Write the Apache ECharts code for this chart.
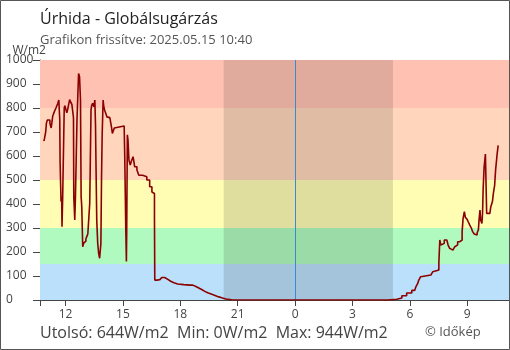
<!DOCTYPE html>
<html><head><meta charset="utf-8">
<script src="https://cdn.jsdelivr.net/npm/echarts@6/dist/echarts.min.js"></script>
<style>html,body{margin:0;padding:0;background:#fff}#c{width:510px;height:350px}</style>
</head><body><div id="c"></div><script>
// ---- data ----
const timesDay1 = ['10:52','10:54','10:58','11:00','11:03','11:08','11:11','11:15','11:17','11:20','11:25','11:30','11:34','11:36','11:39','11:42','11:43','11:46','11:48','11:49','11:51','11:56','11:58','12:02','12:04','12:07','12:10','12:13','12:16','12:20','12:25','12:26','12:29','12:31','12:36','12:41','12:44','12:47','12:49','12:51','12:54','12:57','13:00','13:04','13:07','13:10','13:13','13:16','13:20','13:22','13:25','13:29','13:32','13:34','13:36','13:38','13:41','13:44','13:47','13:51','13:53','13:55','13:58','14:00','14:03','14:07','14:10','14:13','14:16','14:19','14:24','14:27','14:30','14:33','14:37','15:04','15:06','15:09','15:11','15:12','15:14','15:16','15:19','15:23','15:27','15:32','15:37','15:44','15:50','16:02','16:15','16:24','16:31','16:35','16:39','16:40','16:49','16:56','17:02','17:11','17:21','17:30','17:40','17:52','18:11','18:30','18:39','18:49','18:58','19:07','19:17','19:26','19:39','19:51','20:01','20:10','20:23','20:41'];
const valuesDay1 = [662,672,701,736,750,750,736,717,736,767,785,800,800,820,833,750,575,410,430,305,420,800,810,790,780,795,815,835,825,815,760,430,333,420,750,944,930,833,430,389,222,237,245,255,265,275,279,403,792,810,820,805,833,736,528,333,236,194,174,236,514,688,833,806,790,775,763,770,760,758,722,694,705,717,725,720,583,300,160,290,688,667,583,562,580,597,555,542,520,514,500,472,450,444,347,83,85,90,94,86,78,72,67,64,62,62,56,50,44,36,30,24,18,13,9,4,1,0];
const timesDay2 = ['04:51','04:57','05:19','05:35','05:50','06:06','06:15','06:19','06:25','06:28','06:34','06:40','07:06','07:12','07:18','07:31','07:34','07:37','07:43','07:48','07:56','08:00','08:05','08:10','08:15','08:21','08:26','08:30','08:37','08:40','08:44','08:47','08:51','08:54','08:57','09:00','09:03','09:08','09:13','09:17','09:22','09:27','09:31','09:35','09:37','09:40','09:42','09:46','09:48','09:50','09:53','09:57','09:59','10:01','10:11','10:14','10:19','10:22','10:26','10:29','10:34','10:37'];
const valuesDay2 = [0,3,8,18,29,40,45,55,70,83,97,104,111,118,125,155,250,229,236,250,245,229,215,208,212,222,230,243,235,250,285,340,368,345,352,335,326,312,299,285,275,271,280,292,333,375,333,319,361,465,555,608,483,361,354,389,410,444,479,542,611,644];
const hourTickLabels = [12,15,18,21,24,27,30,33];
const bandLimits = [0,150,300,500,800,1000];
const nightStart = '20:16';   // day 1
const nightEnd = '05:07';     // day 2
const axisStart = '10:40';    // day 1
const axisEnd = '11:11';      // day 2
const titleText = 'Úrhida - Globálsugárzás';
const subtitleText = 'Grafikon frissítve: 2025.05.15 10:40';
const unitText = 'W/m2';
const statsText = 'Utolsó: 644W/m2  Min: 0W/m2  Max: 944W/m2';
const creditText = '© Időkép';

// ---- styles ----
const bandColors = ['#bbe0fb','#b0fac0','#fffdb4','#ffd6bc','#ffc2b2'];
const FONT = '"Open Sans", "Noto Sans", sans-serif';

function toHour(t, day) { const [h, m] = t.split(':').map(Number); return day * 24 + h + m / 60; }
const lineData = [];
timesDay1.forEach((t, i) => lineData.push([toHour(t, 0), valuesDay1[i]]));
timesDay2.forEach((t, i) => lineData.push([toHour(t, 1), valuesDay2[i]]));
const xMin = toHour(axisStart, 0), xMax = toHour(axisEnd, 1);

const bandAreas = bandColors.map((c, i) => [
  { yAxis: bandLimits[i], itemStyle: { color: c } },
  { yAxis: bandLimits[i + 1] }
]);

const chart = echarts.init(document.getElementById('c'), null, { renderer: 'canvas' });
const xBase = {
  type: 'value', min: xMin, max: xMax,
  splitLine: { show: false }
};
chart.setOption({
  animation: false,
  grid: { left: 40, right: 1, top: 60, bottom: 50 },
  xAxis: [
    Object.assign({}, xBase, {
      axisLine: { show: true, lineStyle: { color: '#444', width: 1 } },
      axisTick: { show: true, length: 6, lineStyle: { color: '#444' }, customValues: [xMin].concat(hourTickLabels) },
      axisLabel: { customValues: hourTickLabels, formatter: v => String(Math.round(v) % 24), color: '#444', fontSize: 12, fontFamily: FONT, margin: 9 }
    }),
    Object.assign({}, xBase, {
      position: 'bottom',
      axisLine: { show: false },
      axisTick: { show: true, inside: true, length: 6, lineStyle: { color: '#444' }, customValues: hourTickLabels },
      axisLabel: { show: false }
    })
  ],
  yAxis: [
    {
      type: 'value', min: 0, max: 1000, interval: 100, position: 'left',
      splitLine: { show: false },
      axisLine: { show: true, lineStyle: { color: '#444', width: 1 } },
      axisTick: { show: true, length: 7, lineStyle: { color: '#444' } },
      axisLabel: { color: '#444', fontSize: 12, fontFamily: FONT, align: 'left', margin: 34, formatter: v => String(v) }
    },
    {
      type: 'value', min: 0, max: 1000, interval: 100, position: 'left',
      splitLine: { show: false },
      axisLine: { show: false },
      axisTick: { show: true, inside: true, length: 6, lineStyle: { color: '#444' } },
      axisLabel: { show: false }
    }
  ],
  series: [
    {
      name: 'bands', type: 'line', data: [], z: 1, silent: true,
      markArea: { silent: true, label: { show: false }, data: bandAreas }
    },
    {
      name: 'night', type: 'line', data: [], z: 2, silent: true,
      markArea: { silent: true, label: { show: false },
        data: [[{ xAxis: toHour(nightStart, 0), itemStyle: { color: 'rgba(0,0,0,0.12)' } }, { xAxis: toHour(nightEnd, 1) }]] },
      markLine: { silent: true, symbol: 'none', label: { show: false },
        lineStyle: { color: '#3a8ad0', width: 1, type: 'solid' },
        data: [{ xAxis: 24 }] }
    },
    {
      name: 'Globálsugárzás', type: 'line', data: lineData, step: 'end', z: 5,
      showSymbol: false, symbol: 'none',
      lineStyle: { color: '#8b0000', width: 1.6 }, itemStyle: { color: '#8b0000' }
    }
  ],
  graphic: [
    { type: 'rect', shape: { x: 0.5, y: 0.5, width: 509, height: 349 }, style: { fill: 'none', stroke: '#555', lineWidth: 1 }, z: 100 },
    { type: 'text', style: { x: 40, y: 19.5, text: titleText, font: '16px ' + FONT, fill: '#222', verticalAlign: 'middle' } },
    { type: 'text', style: { x: 40, y: 40.5, text: subtitleText, font: '13px ' + FONT, fill: '#555', verticalAlign: 'middle' } },
    { type: 'text', style: { x: 12.5, y: 51, text: unitText, font: '12px ' + FONT, fill: '#444', verticalAlign: 'middle' } },
    { type: 'text', style: { x: 40, y: 333, text: statsText, font: '16px ' + FONT, fill: '#444', verticalAlign: 'middle' } },
    { type: 'text', style: { x: 425, y: 332, text: creditText, font: '13px ' + FONT, fill: '#555', verticalAlign: 'middle' } }
  ]
});
</script></body></html>
